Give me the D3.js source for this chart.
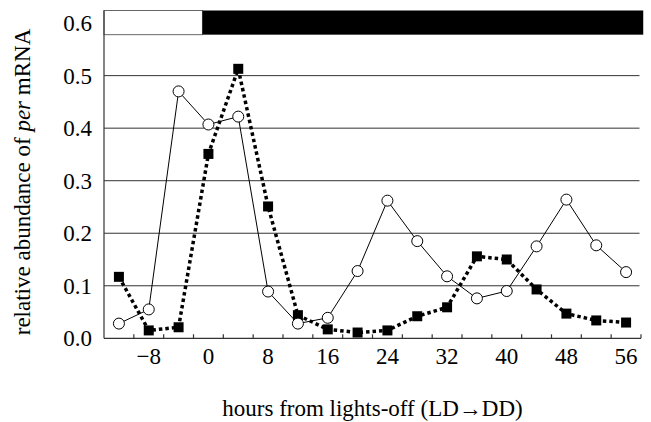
<!DOCTYPE html>
<html lang="en">
<head>
  <meta charset="UTF-8">
  <title>per mRNA abundance</title>
  <style>
    body { margin: 0; padding: 0; background: #fff; }
    svg { display: block; font-family: "Liberation Serif", "DejaVu Serif", serif; }
    .grid { stroke: #333; stroke-width: 1px; }
    .axis-line { stroke: #333; stroke-width: 1.2px; }
  </style>
</head>
<body>
<svg id="chart" width="651" height="422"></svg>

<script src="https://d3js.org/d3.v7.min.js"></script>
<script>
  // hours relative to lights-off, sampled every 4 h
  const hours = [-12, -8, -4, 0, 4, 8, 12, 16, 20, 24, 28, 32, 36, 40, 44, 48, 52, 56];
  // open circles, thin solid line
  const openSeries = [0.028, 0.055, 0.47, 0.407, 0.422, 0.089, 0.028, 0.039, 0.128, 0.262,
                      0.185, 0.118, 0.076, 0.09, 0.175, 0.264, 0.177, 0.126];
  // filled squares, dotted line
  const filledSeries = [0.117, 0.015, 0.021, 0.351, 0.513, 0.251, 0.044, 0.017, 0.011, 0.015,
                        0.042, 0.059, 0.156, 0.15, 0.093, 0.047, 0.034, 0.030];
  const xTickLabels = [-8, 0, 8, 16, 24, 32, 40, 48, 56];
  const xTickMarks = [-10, -6, -2, 2, 6, 10, 14, 18, 22, 26, 30, 34, 38, 42, 46, 50, 54, 58];
  const yTickLabels = [0, 0.1, 0.2, 0.3, 0.4, 0.5, 0.6];
  const gridValues = [0.1, 0.2, 0.3, 0.4, 0.5];
  const lightsOff = -0.8;   // light/dark boundary as drawn in the bar

  const svg = d3.select("#chart");
  const x = d3.scaleLinear().domain([-14, 58]).range([104, 641]);
  const y = d3.scaleLinear().domain([0, 0.624]).range([338.3, 10.5]);
  const barBottom = 0.578, barTop = 0.624;
  const fs = 23;

  // horizontal grid lines
  svg.selectAll("line.grid")
    .data(gridValues)
    .enter().append("line")
    .attr("class", "grid")
    .attr("x1", x(-14)).attr("x2", x(57.8))
    .attr("y1", d => y(d)).attr("y2", d => y(d));

  // light / dark bar
  svg.append("rect")
    .attr("x", x(-14)).attr("y", y(barTop))
    .attr("width", x(lightsOff) - x(-14)).attr("height", y(barBottom) - y(barTop))
    .attr("fill", "#fff").attr("stroke", "#666").attr("stroke-width", 1);
  svg.append("rect")
    .attr("x", x(lightsOff)).attr("y", y(barTop))
    .attr("width", x(58.3) - x(lightsOff)).attr("height", y(barBottom) - y(barTop))
    .attr("fill", "#000");

  // axes lines
  svg.append("line").attr("class", "axis-line")
    .attr("x1", x(-14)).attr("x2", x(-14))
    .attr("y1", y(barTop)).attr("y2", y(0));
  svg.append("line").attr("class", "axis-line")
    .attr("x1", x(-14)).attr("x2", x(58))
    .attr("y1", y(0)).attr("y2", y(0));

  // inward tick marks on x axis
  svg.selectAll("line.xtick")
    .data(xTickMarks)
    .enter().append("line")
    .attr("class", "xtick")
    .attr("stroke", "#333").attr("stroke-width", 1.2)
    .attr("x1", d => x(d)).attr("x2", d => x(d))
    .attr("y1", y(0)).attr("y2", y(0) - 4);

  const fmtX = d3.format("d");
  svg.selectAll("text.xlab")
    .data(xTickLabels)
    .enter().append("text")
    .attr("class", "xlab")
    .attr("x", d => x(d)).attr("y", 364)
    .attr("text-anchor", "middle")
    .attr("font-size", fs)
    .text(d => fmtX(d));

  svg.selectAll("text.ylab")
    .data(yTickLabels)
    .enter().append("text")
    .attr("class", "ylab")
    .attr("x", 92).attr("y", d => y(d) + 8)
    .attr("text-anchor", "end")
    .attr("font-size", fs)
    .text(d => d3.format(".1f")(d));

  // filled squares series (dotted)
  const line = d3.line().x((d, i) => x(hours[i])).y(d => y(d));
  svg.append("path")
    .datum(filledSeries)
    .attr("d", line)
    .attr("fill", "none")
    .attr("stroke", "#000")
    .attr("stroke-width", 3.5)
    .attr("stroke-dasharray", "3.5,3");
  svg.selectAll("rect.sq")
    .data(filledSeries)
    .enter().append("rect")
    .attr("class", "sq")
    .attr("x", (d, i) => x(hours[i]) - 5).attr("y", d => y(d) - 5)
    .attr("width", 10).attr("height", 10)
    .attr("fill", "#000");

  // open circles series (solid)
  svg.append("path")
    .datum(openSeries)
    .attr("d", line)
    .attr("fill", "none")
    .attr("stroke", "#000")
    .attr("stroke-width", 1);
  svg.selectAll("circle.pt")
    .data(openSeries)
    .enter().append("circle")
    .attr("class", "pt")
    .attr("cx", (d, i) => x(hours[i])).attr("cy", d => y(d))
    .attr("r", 5.5)
    .attr("fill", "#fff")
    .attr("stroke", "#000")
    .attr("stroke-width", 1);

  // axis titles
  svg.append("text")
    .attr("x", (x(-14) + x(58)) / 2).attr("y", 416)
    .attr("text-anchor", "middle")
    .attr("font-size", fs)
    .text("hours from lights-off (LD\u2192DD)");

  const yt = svg.append("text")
    .attr("transform", "translate(30,182) rotate(-90)")
    .attr("text-anchor", "middle")
    .attr("font-size", fs);
  yt.append("tspan").text("relative abundance of ");
  yt.append("tspan").attr("font-style", "italic").text("per");
  yt.append("tspan").text(" mRNA");
</script>
</body>
</html>
